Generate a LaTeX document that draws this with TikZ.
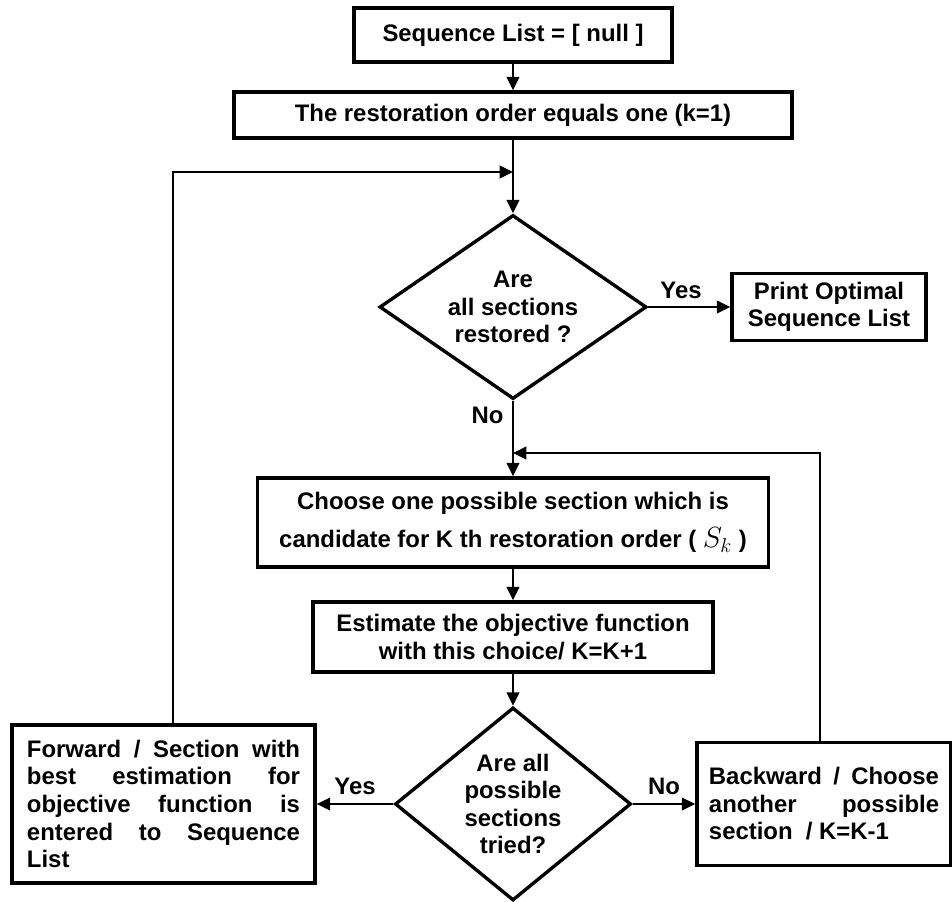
\documentclass[tikz,border=0pt]{standalone}
\usepackage{fontspec}
\setmainfont{Liberation Sans}
\usetikzlibrary{arrows.meta,shapes.geometric}
\tolerance=9999
\hyphenpenalty=10000

\begin{document}
\begin{tikzpicture}[
  x=0.025cm, y=-0.025cm,
  font=\fontsize{17}{19.6}\selectfont\bfseries,
  >={Triangle[length=9.5pt,width=9pt]},
  box/.style={draw,line width=2.6pt,inner sep=0pt,align=center},
  textbox/.style={draw,line width=2.6pt,inner sep=0pt,align=justify},
  decision/.style={diamond,draw,line width=2.4pt,inner sep=0pt,aspect=1.3,align=center},
  flow/.style={->,line width=1.4pt},
  lbl/.style={inner sep=0pt}
]
\useasboundingbox (0,0) rectangle (952,901);

\node[box,minimum width=7.95cm,minimum height=1.35cm] (seq) at (513,35) {Sequence List = [ null ]};
\node[box,minimum width=13.95cm,minimum height=1.15cm] (init) at (513,115) {The restoration order equals one (k=1)};

\node[decision,minimum width=6.675cm,minimum height=4.6cm] (done) at (513,307) {Are\\all sections\\restored ?};
\node[box,minimum width=4.85cm,minimum height=1.675cm] (print) at (829,307) {Print Optimal\\Sequence List};

\node[box,minimum width=12.775cm,minimum height=2.225cm] (choose) at (513,522.5)
 {Choose one possible section which is\\[0.26cm]candidate for K th restoration order ( {\fontsize{21}{21}\selectfont$S_k$} )};
\node[box,minimum width=10cm,minimum height=1.75cm] (estimate) at (513,637)
 {Estimate the objective function\\with this choice/ K=K+1};

\node[decision,minimum width=5.9cm,minimum height=4.825cm] (tried) at (513,804) {Are all\\possible\\sections\\tried?};

\node[textbox,text width=6.825cm,minimum width=7.575cm,minimum height=3.95cm] (forward) at (163.5,804)
 {Forward / Section with best estimation for objective function is entered to Sequence List};
\node[textbox,text width=5.75cm,minimum width=6.35cm,minimum height=3.075cm] (backward) at (824,804)
 {Backward / Choose another possible section~ / K=K-1};

\coordinate (join1) at (513,172);
\coordinate (join2) at (513,453);

\draw[flow] (seq) -- (init);
\draw[flow] (init) -- (done);
\draw[flow] (done) -- node[lbl,above=5pt,pos=0.4] {Yes} (print);
\draw[flow] (done) -- node[lbl,left=6pt,pos=0.2] {No} (choose);
\draw[flow] (choose) -- (estimate);
\draw[flow] (estimate) -- (tried);
\draw[flow] (tried) -- node[lbl,above=6pt] {Yes} (forward);
\draw[flow] (tried) -- node[lbl,above=6pt] {No} (backward);

% loops back
\draw[flow] ([xshift=0.24cm]forward.north) |- (join1);
\draw[flow] ([xshift=-0.1cm]backward.north) |- (join2);
\end{tikzpicture}
\end{document}
